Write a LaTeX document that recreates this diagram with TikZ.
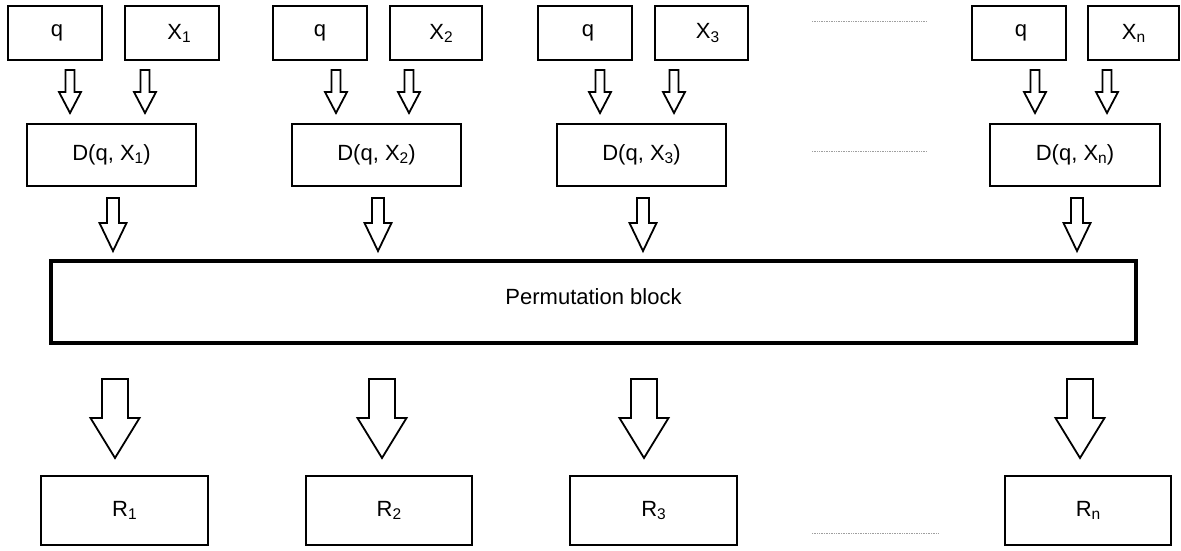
\documentclass[tikz,border=0pt]{standalone}
\usepackage{fontspec}
\setmainfont{Liberation Sans}
\usetikzlibrary{calc}

% lowered, smaller index as in X1, Xn, R1 ...
\newcommand\lowidx[1]{\raisebox{-0.14em}{\fontsize{15.5}{16}\selectfont #1}}

\tikzset{
  box/.style={draw, line width=2.8pt, inner sep=0pt, font=\fontsize{22}{24}\selectfont},
  permbox/.style={box, line width=4pt},
  fat/.style={draw, line width=1.8pt, fill=white, line join=miter},
  dots/.style={draw=gray!75, line width=1pt, dash pattern=on 0.7pt off 1pt},
}

% rectangle node given by its corners (x1,y1) and (x2,y2)
\newcommand\boxnode[7][box]{%
  \node[#1, minimum width={(#5-#3)*1pt}, minimum height={(#6-#4)*1pt}]
    (#2) at ({(#3+#5)/2},{(#4+#6)/2}) {#7};}

% hollow block arrow from coordinate #1 down to coordinate #2
% #3 half shaft width, #4 half head width, #5 head length
\newcommand\fatarrow[5]{%
  \draw[fat] ($(#1)+(-#3,0)$) -- ($(#2)+(-#3,-#5)$) -- ($(#2)+(-#4,-#5)$)
    -- (#2) -- ($(#2)+(#4,-#5)$) -- ($(#2)+(#3,-#5)$) -- ($(#1)+(#3,0)$) -- cycle;}

\begin{document}
\begin{tikzpicture}[x=1pt,y=-1pt]
\useasboundingbox (0,0) rectangle (1181,550);

% inputs
\boxnode{q1}{8}{6}{102}{60}{\hspace{4pt}q}
\boxnode{x1}{125}{6}{219}{60}{\hspace{14pt}X\lowidx{1}}
\boxnode{q2}{273}{6}{367}{60}{q}
\boxnode{x2}{390}{6}{482}{60}{\hspace{10pt}X\lowidx{2}}
\boxnode{q3}{538}{6}{632}{60}{\hspace{6pt}q}
\boxnode{x3}{655}{6}{748}{60}{\hspace{12pt}X\lowidx{3}}
\boxnode{qn}{972}{6}{1066}{60}{\hspace{4pt}q}
\boxnode{xn}{1088}{6}{1179}{60}{X\lowidx{n}}

% distances
\boxnode{d1}{27}{124}{196}{186}{\raisebox{-4pt}{D(q, X\lowidx{1})}}
\boxnode{d2}{292}{124}{461}{186}{\raisebox{-4pt}{D(q, X\lowidx{2})}}
\boxnode{d3}{557}{124}{726}{186}{\raisebox{-4pt}{D(q, X\lowidx{3})}}
\boxnode{dn}{990}{124}{1160}{186}{\raisebox{-4pt}{D(q, X\lowidx{n})}}

% permutation
\boxnode[permbox]{perm}{51}{261}{1136}{343}{\raisebox{10pt}{Permutation block}\hspace{16pt}}

% results
\boxnode{r1}{41}{476}{208}{545}{R\lowidx{1}}
\boxnode{r2}{306}{476}{472}{545}{R\lowidx{2}}
\boxnode{r3}{570}{476}{737}{545}{R\lowidx{3}}
\boxnode{rn}{1005}{476}{1171}{545}{R\lowidx{n}}

% arrow end points: inputs -> distances
\foreach \n/\x in {aq1/70, ax1/145, aq2/336, ax2/409, aq3/600, ax3/674, aqn/1035, axn/1107}{
  \coordinate (\n-s) at (\x,70);
  \coordinate (\n-e) at (\x,113);
}
% distances -> permutation
\foreach \n/\x in {ad1/113, ad2/378, ad3/643, adn/1077}{
  \coordinate (\n-s) at (\x,198);
  \coordinate (\n-e) at (\x,251);
}
% permutation -> results
\foreach \n/\x in {ar1/115, ar2/382, ar3/644, arn/1080}{
  \coordinate (\n-s) at (\x,379);
  \coordinate (\n-e) at (\x,458);
}

\foreach \n in {aq1, ax1, aq2, ax2, aq3, ax3, aqn, axn}{
  \fatarrow{\n-s}{\n-e}{4.5}{11}{21}
}
\foreach \n in {ad1, ad2, ad3, adn}{
  \fatarrow{\n-s}{\n-e}{6}{13.5}{28}
}
\foreach \n in {ar1, ar2, ar3, arn}{
  \fatarrow{\n-s}{\n-e}{13}{24.5}{40}
}

% ellipsis rules
\coordinate (e1a) at (812,21);  \coordinate (e1b) at (927,21);
\coordinate (e2a) at (812,151); \coordinate (e2b) at (927,151);
\coordinate (e3a) at (812,533); \coordinate (e3b) at (938,533);
\draw[dots] (e1a) -- (e1b);
\draw[dots] (e2a) -- (e2b);
\draw[dots] (e3a) -- (e3b);
\end{tikzpicture}
\end{document}
